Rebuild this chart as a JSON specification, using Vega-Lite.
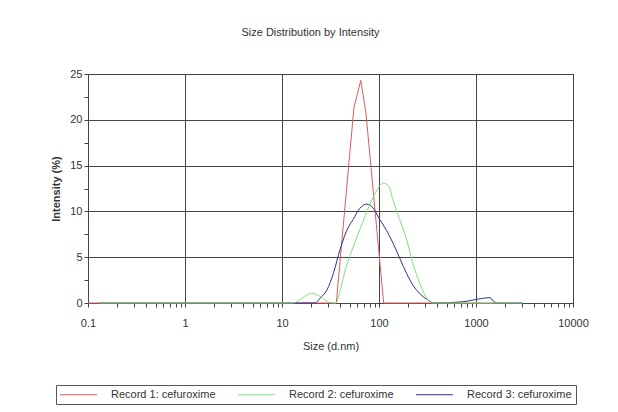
{
  "$schema": "https://vega.github.io/schema/vega-lite/v6.json",
  "width": 485,
  "height": 229,
  "autosize": {"type": "none"},
  "padding": {"left": 88, "top": 74, "right": 45, "bottom": 109},
  "background": "white",
  "title": {"text": "Size Distribution by Intensity", "anchor": "middle", "dx": -20, "offset": 30, "fontSize": 11, "font": "Liberation Sans", "fontWeight": "normal", "color": "#333"},
  "config": {
    "font": "Liberation Sans",
    "view": {"stroke": "#444", "strokeWidth": 1},
    "axis": {"labelFont": "Liberation Sans", "titleFont": "Liberation Sans", "labelFontSize": 11, "titleFontSize": 11, "labelColor": "#333", "titleColor": "#333", "domainColor": "#444", "tickColor": "#444", "gridColor": "#444", "gridWidth": 1, "labelOverlap": false, "labelFlush": false}
  },
  "data": {"values": [
    {"record": "Record 1: cefuroxime", "size": 0.1, "intensity": 0},
    {"record": "Record 1: cefuroxime", "size": 13, "intensity": 0},
    {"record": "Record 1: cefuroxime", "size": 36.3, "intensity": 0},
    {"record": "Record 1: cefuroxime", "size": 55.1, "intensity": 21.3},
    {"record": "Record 1: cefuroxime", "size": 64.9, "intensity": 24.3},
    {"record": "Record 1: cefuroxime", "size": 73.4, "intensity": 20.7},
    {"record": "Record 1: cefuroxime", "size": 111.7, "intensity": 0},
    {"record": "Record 1: cefuroxime", "size": 300, "intensity": 0},
    {"record": "Record 1: cefuroxime", "size": 3000, "intensity": 0},
    {"record": "Record 2: cefuroxime", "size": 0.13, "intensity": 0},
    {"record": "Record 2: cefuroxime", "size": 13, "intensity": 0},
    {"record": "Record 2: cefuroxime", "size": 16, "intensity": 0.5},
    {"record": "Record 2: cefuroxime", "size": 20.2, "intensity": 1.06},
    {"record": "Record 2: cefuroxime", "size": 25, "intensity": 0.7},
    {"record": "Record 2: cefuroxime", "size": 31, "intensity": 0.05},
    {"record": "Record 2: cefuroxime", "size": 36, "intensity": 0},
    {"record": "Record 2: cefuroxime", "size": 40, "intensity": 1.5},
    {"record": "Record 2: cefuroxime", "size": 46, "intensity": 4.0},
    {"record": "Record 2: cefuroxime", "size": 55, "intensity": 6.3},
    {"record": "Record 2: cefuroxime", "size": 65, "intensity": 8.3},
    {"record": "Record 2: cefuroxime", "size": 80, "intensity": 10.7},
    {"record": "Record 2: cefuroxime", "size": 95, "intensity": 12.3},
    {"record": "Record 2: cefuroxime", "size": 110, "intensity": 13.1},
    {"record": "Record 2: cefuroxime", "size": 125, "intensity": 12.8},
    {"record": "Record 2: cefuroxime", "size": 140, "intensity": 11.2},
    {"record": "Record 2: cefuroxime", "size": 165, "intensity": 9.0},
    {"record": "Record 2: cefuroxime", "size": 193, "intensity": 6.9},
    {"record": "Record 2: cefuroxime", "size": 225, "intensity": 4.2},
    {"record": "Record 2: cefuroxime", "size": 265, "intensity": 2.1},
    {"record": "Record 2: cefuroxime", "size": 300, "intensity": 0.8},
    {"record": "Record 2: cefuroxime", "size": 330, "intensity": 0.2},
    {"record": "Record 2: cefuroxime", "size": 360, "intensity": 0},
    {"record": "Record 2: cefuroxime", "size": 3050, "intensity": 0},
    {"record": "Record 3: cefuroxime", "size": 0.13, "intensity": 0},
    {"record": "Record 3: cefuroxime", "size": 22, "intensity": 0},
    {"record": "Record 3: cefuroxime", "size": 24.5, "intensity": 0.5},
    {"record": "Record 3: cefuroxime", "size": 29, "intensity": 1.4},
    {"record": "Record 3: cefuroxime", "size": 34, "intensity": 3.3},
    {"record": "Record 3: cefuroxime", "size": 39.6, "intensity": 5.8},
    {"record": "Record 3: cefuroxime", "size": 46, "intensity": 7.8},
    {"record": "Record 3: cefuroxime", "size": 54, "intensity": 9.1},
    {"record": "Record 3: cefuroxime", "size": 63, "intensity": 10.3},
    {"record": "Record 3: cefuroxime", "size": 75, "intensity": 10.8},
    {"record": "Record 3: cefuroxime", "size": 85, "intensity": 10.5},
    {"record": "Record 3: cefuroxime", "size": 102, "intensity": 9.1},
    {"record": "Record 3: cefuroxime", "size": 120, "intensity": 7.9},
    {"record": "Record 3: cefuroxime", "size": 140, "intensity": 6.5},
    {"record": "Record 3: cefuroxime", "size": 165, "intensity": 4.8},
    {"record": "Record 3: cefuroxime", "size": 193, "intensity": 3.2},
    {"record": "Record 3: cefuroxime", "size": 225, "intensity": 1.9},
    {"record": "Record 3: cefuroxime", "size": 265, "intensity": 1.0},
    {"record": "Record 3: cefuroxime", "size": 322, "intensity": 0.3},
    {"record": "Record 3: cefuroxime", "size": 370, "intensity": 0},
    {"record": "Record 3: cefuroxime", "size": 740, "intensity": 0.14},
    {"record": "Record 3: cefuroxime", "size": 940, "intensity": 0.33},
    {"record": "Record 3: cefuroxime", "size": 1393, "intensity": 0.58},
    {"record": "Record 3: cefuroxime", "size": 1570, "intensity": 0.05},
    {"record": "Record 3: cefuroxime", "size": 1700, "intensity": 0},
    {"record": "Record 3: cefuroxime", "size": 3000, "intensity": 0}
  ]},
  "encoding": {
    "x": {"field": "size", "type": "quantitative",
      "scale": {"type": "log", "domain": [0.1, 10000], "nice": false},
      "axis": {"title": "Size (d.nm)", "titleFontWeight": "normal", "titlePadding": 12, "labelPadding": 10, "format": "~g",
        "values": [0.1,0.2,0.3,0.4,0.5,0.6,0.7,0.8,0.9,1,2,3,4,5,6,7,8,9,10,20,30,40,50,60,70,80,90,100,200,300,400,500,600,700,800,900,1000,2000,3000,4000,5000,6000,7000,8000,9000,10000],
        "labelExpr": "abs(log(datum.value)/LN10 - round(log(datum.value)/LN10)) < 0.000001 ? datum.label : ''",
        "gridOpacity": {"condition": {"test": "abs(log(datum.value)/LN10 - round(log(datum.value)/LN10)) < 0.000001", "value": 1}, "value": 0},
        "tickSize": 4}},
    "y": {"field": "intensity", "type": "quantitative",
      "scale": {"domain": [0, 25], "nice": false},
      "axis": {"title": "Intensity (%)", "titleFontWeight": "bold", "titlePadding": 8, "labelPadding": 2,
        "values": [0,2.5,5,7.5,10,12.5,15,17.5,20,22.5,25],
        "labelExpr": "datum.value % 5 == 0 ? datum.label : ''",
        "gridOpacity": {"condition": {"test": "datum.value % 5 == 0", "value": 1}, "value": 0},
        "tickSize": 4}},
    "color": {"field": "record", "type": "nominal",
      "scale": {"domain": ["Record 1: cefuroxime", "Record 2: cefuroxime", "Record 3: cefuroxime"], "range": ["#e05a5e", "#7fe07f", "#2f2f8f"]},
      "legend": {"title": null, "orient": "none", "legendX": -32, "legendY": 311, "direction": "horizontal", "columns": 3,
        "symbolType": "M-1.1,0H6.3", "symbolSize": 100, "symbolStrokeWidth": 1, "symbolFillColor": "transparent", "labelFontSize": 11, "labelFont": "Liberation Sans", "labelColor": "#333",
        "labelOffset": 40, "columnPadding": 20, "strokeColor": "#555", "padding": 4, "labelLimit": 200}}
  },
  "layer": [
    {"transform": [{"filter": "datum.record == 'Record 1: cefuroxime'"}], "mark": {"type": "line", "strokeWidth": 1, "interpolate": "linear"}},
    {"transform": [{"filter": "datum.record == 'Record 3: cefuroxime'"}], "mark": {"type": "line", "strokeWidth": 1, "interpolate": "monotone"}},
    {"transform": [{"filter": "datum.record == 'Record 2: cefuroxime'"}], "mark": {"type": "line", "strokeWidth": 1, "interpolate": "monotone"}}
  ]
}
